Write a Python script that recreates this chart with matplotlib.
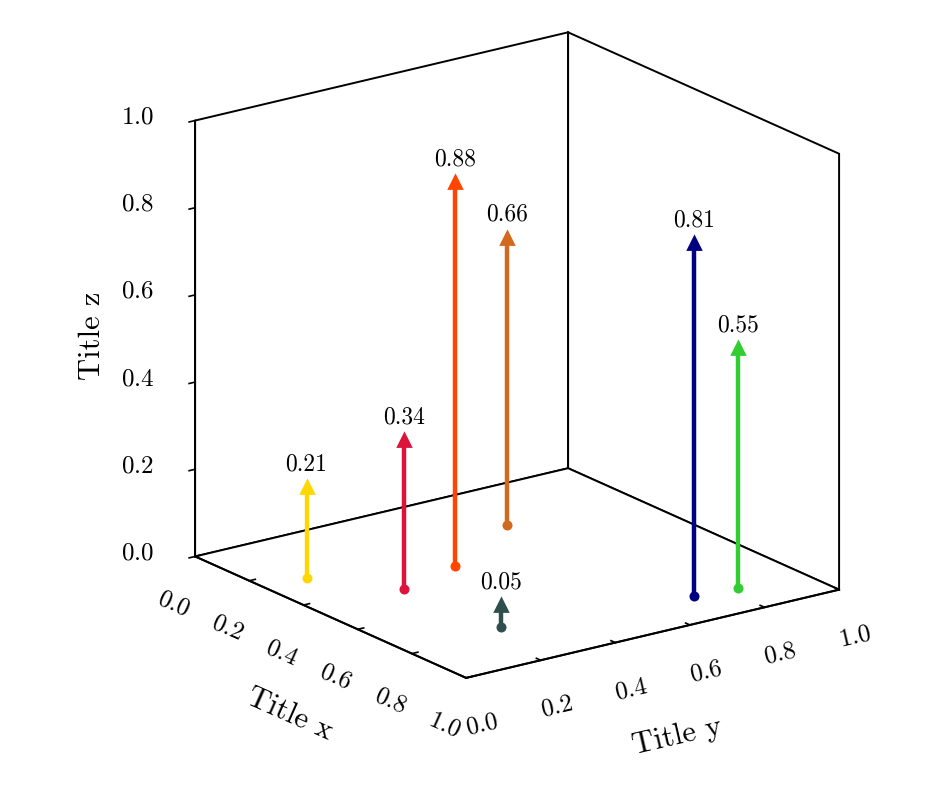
import numpy as np
import matplotlib
matplotlib.use('Agg')
import matplotlib.pyplot as plt

plt.rcParams['font.family'] = 'serif'
plt.rcParams['font.serif'] = ['cmr10']
plt.rcParams['mathtext.fontset'] = 'cm'
plt.rcParams['axes.formatter.use_mathtext'] = True

# arrows: base point on the floor and height
xs = [0.26, 0.44, 0.38, 0.23, 0.77, 0.85, 0.86]
ys = [0.11, 0.24, 0.42, 0.67, 0.26, 0.72, 0.83]
zs = [0.21, 0.34, 0.88, 0.66, 0.05, 0.81, 0.55]
colors = ['gold', 'crimson', 'orangered', 'chocolate', 'darkslategray', 'navy', 'limegreen']
ticks = [0.0, 0.2, 0.4, 0.6, 0.8, 1.0]

fig = plt.figure(figsize=(4.75, 3.965), dpi=200)
ax = fig.add_axes([0.1253, 0.050, 0.816, 0.978], projection='3d')
ax.set_proj_type('ortho')
ax.view_init(elev=19, azim=-36)
ax.set_box_aspect((1, 1, 1))

for x, y, z, c in zip(xs, ys, zs, colors):
    ax.plot([x, x], [y, y], [0, z], color=c, lw=1.6, solid_capstyle='butt')
    ax.plot([x], [y], [0], marker='o', ms=2.6, color=c, mec=c)
    ax.plot([x], [y], [z], marker='^', ms=4.6, color=c, mec=c)
    ax.text(x, y, z + 0.027, '%.2f' % z, ha='center', va='bottom', fontsize=8.5)

ax.set_xlim(0, 1)
ax.set_ylim(0, 1)
ax.set_zlim(0, 1)
ax.set_xticks(ticks)
ax.set_yticks(ticks)
ax.set_zticks(ticks)
ax.tick_params(labelsize=9)
ax.tick_params(axis='x', pad=0.5)
ax.tick_params(axis='y', pad=0.5)
ax.tick_params(axis='z', pad=5)

# z axis on the front-left edge
ax.zaxis.set_ticks_position('lower')
ax.zaxis.set_label_position('lower')

fig.text(0.305, 0.099, 'Title x', rotation=-24, ha='center', va='center', fontsize=11)
fig.text(0.713, 0.071, 'Title y', rotation=13, ha='center', va='center', fontsize=11)
fig.text(0.097, 0.576, 'Title z', rotation=90, ha='center', va='center', fontsize=11)

ax.grid(False)
for axis in (ax.xaxis, ax.yaxis, ax.zaxis):
    axis.set_pane_color((1, 1, 1, 1))
    axis.pane.set_closed(True)
    axis.pane.set_edgecolor('black')
    axis.pane.set_linewidth(0.7)
    axis.line.set_linewidth(0.7)
    axis._axinfo['tick']['inward_factor'] = 0.0
    axis._axinfo['tick']['outward_factor'] = 0.2
    axis._axinfo['tick']['linewidth'] = {True: 0.6, False: 0.5}
# the z ticks sit on the other edge, so flip their direction
ax.zaxis._axinfo['tick']['inward_factor'] = 0.2
ax.zaxis._axinfo['tick']['outward_factor'] = 0.0

for lab in ax.get_xticklabels():
    lab.set_rotation(-24)
for lab in ax.get_yticklabels():
    lab.set_rotation(13)
for lab in ax.get_zticklabels():
    lab.set_va('center')

fig.savefig('out.png', dpi=200)
